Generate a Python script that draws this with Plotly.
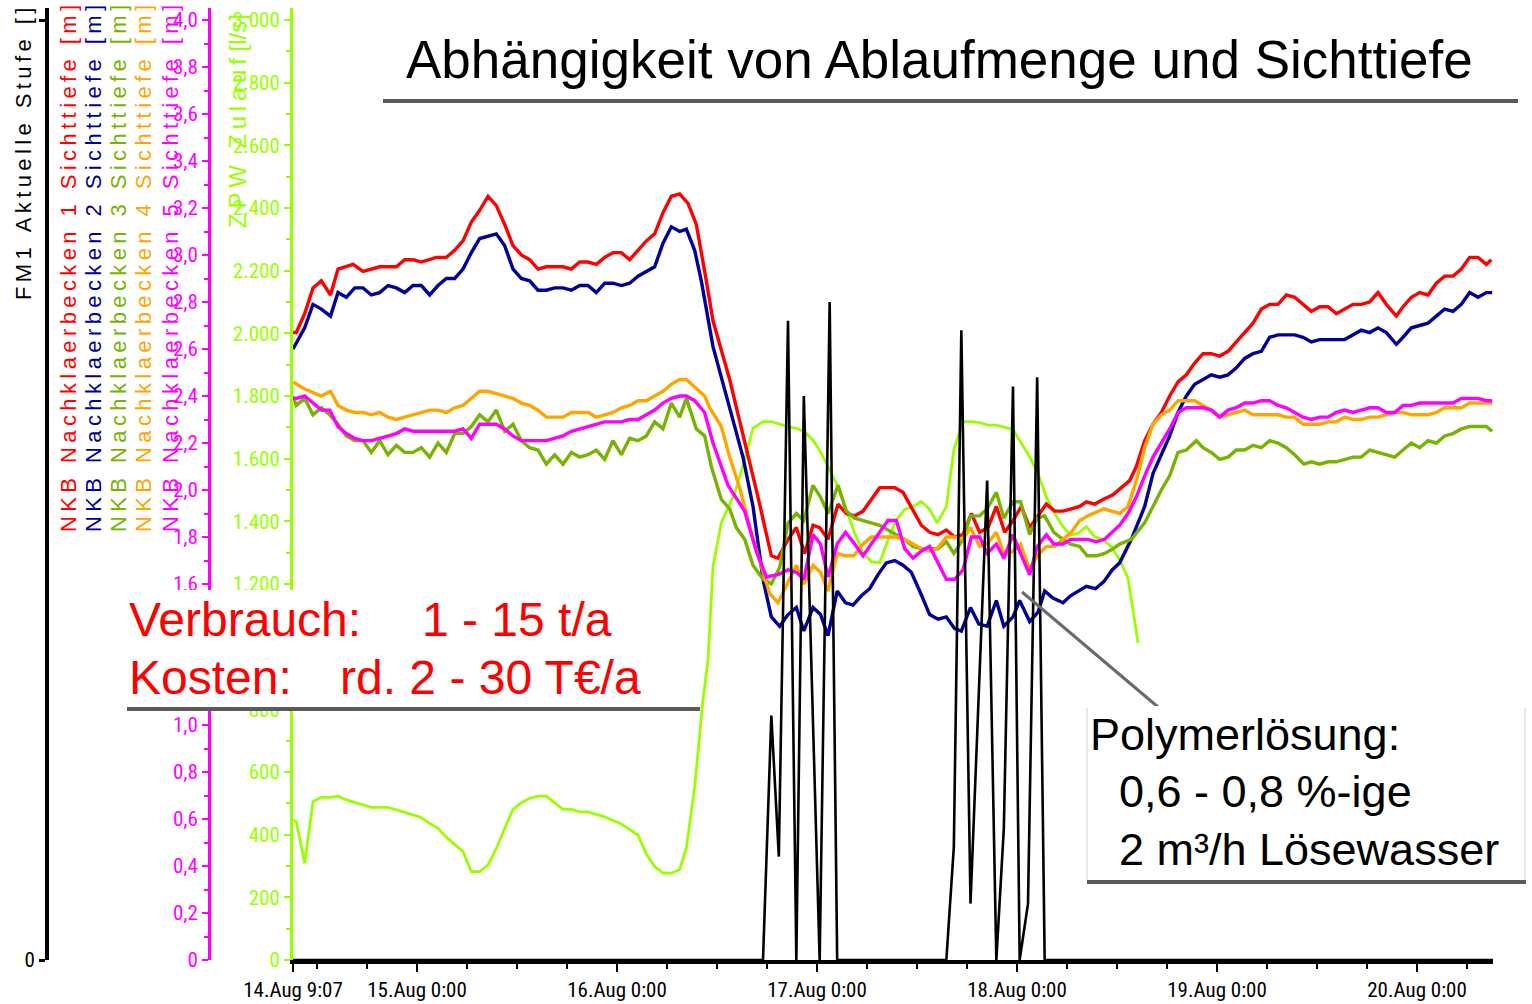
import pandas as pd
import plotly.graph_objects as go

# ---------------- data (hours after start, value) ----------------
START = "2006-08-14 09:07"
SPAN_HOURS = 144

# NKB Nachklaerbecken 1..5 Sichttiefe [m]
NKB1 = [(0.0, 2.67), (0.4, 2.67), (1.4, 2.75), (2.4, 2.86), (3.4, 2.89), (4.5, 2.83), (5.4, 2.94), (7.2, 2.96),
        (8.4, 2.93), (10.4, 2.95), (12.4, 2.95), (13.4, 2.98), (14.4, 2.98), (15.4, 2.97), (17.2, 2.99), (18.4, 2.99),
        (19.4, 3.02), (20.4, 3.06), (21.4, 3.14), (22.4, 3.19), (23.4, 3.25), (24.4, 3.21), (25.4, 3.13), (26.4, 3.04),
        (27.4, 3.00), (28.4, 2.98), (29.4, 2.94), (30.4, 2.95), (32.4, 2.95), (33.4, 2.94), (34.4, 2.97), (35.4, 2.97),
        (36.4, 2.96), (37.4, 2.99), (38.4, 3.01), (39.4, 3.01), (40.4, 2.98), (41.4, 3.02), (42.4, 3.06), (43.4, 3.09),
        (44.4, 3.18), (45.4, 3.25), (46.4, 3.26), (47.4, 3.22), (48.4, 3.13), (49.6, 2.89), (50.4, 2.72), (52.4, 2.47),
        (54.0, 2.24), (55.8, 1.97), (57.4, 1.72), (58.2, 1.71), (59.4, 1.79), (60.4, 1.84), (61.4, 1.73), (62.4, 1.85),
        (63.2, 1.84), (64.2, 1.79), (65.4, 1.94), (66.4, 1.90), (67.4, 1.89), (68.4, 1.91), (69.4, 1.96), (70.4, 2.01),
        (71.2, 2.01), (72.2, 2.01), (73.2, 1.99), (74.4, 1.91), (75.4, 1.85), (76.4, 1.82), (77.4, 1.81), (78.4, 1.83),
        (79.4, 1.80), (80.4, 1.81), (81.4, 1.90), (82.4, 1.82), (83.4, 1.84), (84.4, 1.93), (85.4, 1.82), (86.4, 1.87),
        (87.4, 1.93), (88.4, 1.84), (89.4, 1.89), (90.4, 1.94), (91.4, 1.91), (92.4, 1.91), (93.4, 1.92), (94.4, 1.93),
        (95.2, 1.95), (96.2, 1.94), (97.2, 1.96), (98.4, 1.98), (99.4, 2.01), (100.4, 2.04), (101.2, 2.10), (102.2, 2.21),
        (103.2, 2.28), (104.2, 2.33), (105.2, 2.40), (106.2, 2.46), (107.2, 2.49), (108.2, 2.54), (109.2, 2.58),
        (110.2, 2.58), (111.2, 2.57), (112.2, 2.59), (113.2, 2.63), (114.2, 2.67), (115.2, 2.71), (116.2, 2.77),
        (117.2, 2.79), (118.2, 2.79), (119.2, 2.83), (120.2, 2.82), (121.2, 2.79), (122.2, 2.76), (123.2, 2.78),
        (124.2, 2.78), (125.2, 2.75), (126.2, 2.77), (127.2, 2.79), (128.2, 2.79), (129.2, 2.80), (130.2, 2.84),
        (131.2, 2.79), (132.4, 2.74), (133.2, 2.78), (134.2, 2.82), (135.2, 2.84), (136.2, 2.83), (137.2, 2.88),
        (138.2, 2.91), (139.2, 2.91), (140.2, 2.94), (141.2, 2.99), (142.2, 2.99), (143.2, 2.96), (143.8, 2.98)]

NKB2 = [(0.0, 2.60), (1.4, 2.69), (2.4, 2.79), (3.4, 2.77), (4.5, 2.74), (5.4, 2.84), (6.4, 2.82), (7.4, 2.86),
        (8.4, 2.86), (9.4, 2.83), (10.4, 2.84), (11.4, 2.87), (12.4, 2.86), (13.4, 2.84), (14.4, 2.87), (15.4, 2.87),
        (16.4, 2.83), (17.4, 2.87), (18.4, 2.90), (19.4, 2.90), (20.4, 2.94), (21.4, 3.01), (22.4, 3.07), (23.4, 3.08),
        (24.4, 3.09), (25.4, 3.04), (26.4, 2.94), (27.4, 2.90), (28.4, 2.89), (29.4, 2.85), (30.4, 2.85), (31.4, 2.86),
        (32.4, 2.86), (33.4, 2.85), (34.4, 2.87), (35.4, 2.87), (36.4, 2.84), (37.4, 2.88), (38.4, 2.88), (39.4, 2.87),
        (40.4, 2.88), (41.4, 2.91), (42.4, 2.93), (43.4, 2.95), (44.4, 3.05), (45.4, 3.12), (46.4, 3.10), (47.2, 3.11),
        (48.2, 3.02), (49.0, 2.89), (50.4, 2.61), (51.6, 2.45), (52.8, 2.30), (54.0, 2.14), (55.2, 1.93), (56.4, 1.62),
        (57.4, 1.46), (58.4, 1.42), (59.4, 1.47), (60.4, 1.50), (61.3, 1.40), (62.4, 1.50), (63.3, 1.47), (64.2, 1.38),
        (65.3, 1.57), (66.3, 1.52), (67.2, 1.51), (68.2, 1.55), (69.2, 1.58), (70.2, 1.64), (71.2, 1.69), (72.2, 1.70),
        (73.2, 1.68), (74.2, 1.65), (75.2, 1.57), (76.4, 1.47), (77.4, 1.45), (78.4, 1.46), (79.4, 1.41), (80.2, 1.40),
        (81.3, 1.50), (82.3, 1.43), (83.3, 1.42), (84.4, 1.53), (85.3, 1.42), (86.4, 1.46), (87.2, 1.53), (88.4, 1.44),
        (89.4, 1.48), (90.2, 1.57), (91.2, 1.54), (92.4, 1.52), (93.3, 1.55), (94.2, 1.57), (95.2, 1.59), (96.3, 1.58),
        (97.3, 1.61), (98.3, 1.66), (99.2, 1.69), (100.6, 1.79), (102.2, 1.93), (103.2, 2.07), (104.2, 2.15),
        (105.2, 2.23), (106.2, 2.33), (107.2, 2.40), (108.2, 2.45), (109.2, 2.47), (110.2, 2.49), (111.2, 2.48),
        (112.2, 2.49), (113.2, 2.52), (114.2, 2.56), (115.2, 2.58), (116.2, 2.59), (117.2, 2.65), (118.2, 2.66),
        (120.2, 2.66), (121.2, 2.65), (122.2, 2.63), (123.2, 2.64), (126.2, 2.64), (127.2, 2.66), (128.2, 2.68),
        (129.2, 2.67), (130.2, 2.69), (131.2, 2.67), (132.4, 2.62), (133.2, 2.65), (134.2, 2.69), (135.2, 2.70),
        (136.2, 2.71), (137.2, 2.74), (138.2, 2.77), (139.2, 2.76), (140.2, 2.79), (141.2, 2.84), (142.2, 2.82),
        (143.2, 2.84), (143.9, 2.84)]

NKB3 = [(0.0, 2.40), (0.4, 2.36), (1.4, 2.39), (2.4, 2.32), (3.4, 2.35), (4.4, 2.32), (5.4, 2.28), (6.4, 2.23),
        (7.4, 2.21), (8.4, 2.21), (9.4, 2.16), (10.4, 2.21), (11.4, 2.15), (12.4, 2.19), (13.4, 2.16), (14.4, 2.16),
        (15.4, 2.18), (16.4, 2.14), (17.4, 2.20), (18.4, 2.16), (19.4, 2.24), (20.4, 2.24), (21.4, 2.27), (22.4, 2.32),
        (23.4, 2.29), (24.4, 2.34), (25.4, 2.25), (26.4, 2.28), (27.4, 2.21), (28.4, 2.18), (29.4, 2.17), (30.4, 2.11),
        (31.4, 2.15), (32.4, 2.11), (33.4, 2.16), (34.4, 2.14), (35.4, 2.15), (36.4, 2.17), (37.4, 2.13), (38.4, 2.21),
        (39.4, 2.15), (40.4, 2.22), (41.4, 2.21), (42.4, 2.23), (43.4, 2.29), (44.4, 2.26), (45.4, 2.37), (46.4, 2.31),
        (47.2, 2.39), (48.4, 2.26), (49.4, 2.23), (50.2, 2.10), (51.4, 1.96), (52.4, 1.92), (53.2, 1.84), (54.2, 1.79),
        (55.2, 1.68), (56.4, 1.62), (57.4, 1.60), (58.4, 1.67), (59.4, 1.86), (60.4, 1.90), (61.3, 1.87), (62.4, 2.02),
        (63.3, 1.97), (64.2, 1.90), (65.4, 2.02), (66.4, 1.91), (67.4, 1.88), (68.4, 1.87), (69.4, 1.86), (70.4, 1.85),
        (71.4, 1.83), (72.4, 1.81), (73.4, 1.79), (74.4, 1.76), (75.4, 1.75), (76.4, 1.75), (77.4, 1.75), (78.4, 1.78),
        (79.3, 1.73), (80.4, 1.79), (81.3, 1.89), (82.4, 1.89), (83.3, 1.92), (84.4, 1.99), (85.3, 1.88), (86.4, 1.95),
        (87.3, 1.95), (88.4, 1.81), (89.3, 1.88), (90.2, 1.89), (91.3, 1.82), (92.4, 1.79), (93.3, 1.77), (94.4, 1.76),
        (95.3, 1.72), (96.4, 1.72), (97.4, 1.73), (98.4, 1.75), (99.2, 1.77), (100.6, 1.79), (102.2, 1.86),
        (103.2, 1.93), (104.2, 2.00), (105.2, 2.06), (106.2, 2.16), (107.2, 2.17), (108.4, 2.21), (109.2, 2.18),
        (110.2, 2.16), (111.2, 2.13), (112.2, 2.14), (113.2, 2.17), (114.2, 2.17), (115.2, 2.19), (116.2, 2.18),
        (117.2, 2.21), (118.2, 2.20), (119.2, 2.18), (120.2, 2.15), (121.3, 2.11), (122.2, 2.12), (123.2, 2.11),
        (124.2, 2.12), (125.2, 2.12), (126.2, 2.13), (127.2, 2.14), (128.2, 2.14), (129.2, 2.17), (130.2, 2.16),
        (131.2, 2.15), (132.2, 2.14), (133.2, 2.17), (134.2, 2.20), (135.2, 2.18), (136.2, 2.21), (137.2, 2.20),
        (138.2, 2.23), (139.2, 2.24), (140.2, 2.26), (141.2, 2.27), (143.2, 2.27), (143.9, 2.25)]

NKB4 = [(0.0, 2.46), (1.4, 2.43), (3.4, 2.40), (4.5, 2.42), (5.4, 2.36), (6.4, 2.34), (7.4, 2.33), (8.4, 2.33),
        (9.4, 2.32), (10.4, 2.33), (11.4, 2.31), (12.4, 2.30), (13.4, 2.31), (14.4, 2.32), (16.4, 2.34), (17.4, 2.34),
        (18.4, 2.33), (19.4, 2.35), (20.4, 2.36), (21.4, 2.39), (22.4, 2.42), (23.4, 2.42), (24.4, 2.41), (25.4, 2.40),
        (26.4, 2.39), (27.4, 2.37), (28.4, 2.36), (29.4, 2.34), (30.4, 2.31), (32.4, 2.31), (33.4, 2.33), (35.4, 2.33),
        (36.4, 2.31), (37.4, 2.32), (38.4, 2.33), (39.4, 2.35), (40.4, 2.36), (41.4, 2.38), (42.4, 2.38), (43.4, 2.40),
        (44.4, 2.42), (45.4, 2.45), (46.4, 2.47), (47.2, 2.47), (48.4, 2.43), (49.4, 2.40), (50.0, 2.35), (51.4, 2.27),
        (52.4, 2.14), (53.6, 2.01), (55.2, 1.79), (57.2, 1.56), (58.2, 1.52), (59.2, 1.59), (60.4, 1.68), (61.3, 1.60),
        (62.4, 1.68), (63.3, 1.65), (64.2, 1.57), (65.3, 1.73), (66.3, 1.72), (67.3, 1.72), (68.4, 1.77), (69.4, 1.80),
        (72.4, 1.80), (73.4, 1.79), (74.4, 1.77), (75.4, 1.75), (76.4, 1.74), (77.3, 1.75), (78.4, 1.80), (79.4, 1.80),
        (80.4, 1.79), (81.3, 1.84), (82.4, 1.76), (83.3, 1.77), (84.4, 1.82), (85.4, 1.72), (86.4, 1.74), (87.3, 1.77),
        (88.4, 1.66), (89.3, 1.72), (90.4, 1.76), (91.4, 1.76), (92.4, 1.79), (93.4, 1.82), (94.4, 1.87), (95.4, 1.89),
        (97.3, 1.92), (99.2, 1.90), (100.2, 1.93), (101.2, 2.04), (102.2, 2.18), (103.2, 2.28), (104.2, 2.32),
        (105.2, 2.34), (106.2, 2.38), (108.2, 2.38), (109.2, 2.36), (110.2, 2.34), (111.2, 2.31), (112.2, 2.32),
        (113.2, 2.33), (114.2, 2.34), (115.2, 2.32), (118.2, 2.32), (119.2, 2.31), (120.2, 2.31), (121.2, 2.28),
        (123.2, 2.28), (124.2, 2.29), (125.2, 2.29), (126.2, 2.31), (127.2, 2.30), (128.2, 2.30), (129.2, 2.31),
        (130.2, 2.31), (131.2, 2.32), (132.2, 2.33), (133.2, 2.33), (134.2, 2.32), (136.2, 2.32), (137.2, 2.33),
        (138.2, 2.35), (140.2, 2.35), (141.2, 2.37), (143.9, 2.37)]

NKB5 = [(0.0, 2.39), (0.4, 2.39), (1.4, 2.40), (2.4, 2.37), (3.4, 2.34), (4.4, 2.34), (5.4, 2.27), (6.4, 2.24),
        (7.4, 2.22), (8.4, 2.21), (9.4, 2.21), (10.4, 2.22), (11.4, 2.23), (12.4, 2.24), (13.4, 2.26), (14.4, 2.25),
        (19.4, 2.25), (20.4, 2.26), (21.4, 2.22), (22.4, 2.28), (24.4, 2.28), (25.4, 2.26), (26.4, 2.23), (27.4, 2.21),
        (30.4, 2.21), (31.4, 2.22), (32.4, 2.23), (33.4, 2.25), (34.4, 2.26), (35.4, 2.27), (36.4, 2.28), (37.4, 2.29),
        (39.4, 2.29), (40.4, 2.30), (41.4, 2.30), (42.4, 2.32), (43.4, 2.34), (44.4, 2.37), (45.4, 2.39), (46.4, 2.40),
        (47.2, 2.40), (48.2, 2.38), (49.4, 2.33), (50.4, 2.20), (52.2, 2.02), (54.2, 1.91), (55.6, 1.74), (56.8, 1.63),
        (58.2, 1.64), (59.4, 1.66), (60.4, 1.65), (61.3, 1.62), (62.4, 1.81), (63.3, 1.77), (64.2, 1.63), (65.3, 1.77),
        (66.3, 1.82), (67.4, 1.77), (68.4, 1.72), (69.4, 1.77), (70.4, 1.82), (71.4, 1.87), (72.4, 1.87), (73.4, 1.75),
        (74.4, 1.71), (75.4, 1.74), (76.4, 1.76), (77.4, 1.69), (78.4, 1.62), (79.4, 1.62), (80.4, 1.66), (81.4, 1.80),
        (82.4, 1.80), (83.3, 1.73), (84.4, 1.77), (85.3, 1.71), (86.4, 1.81), (87.3, 1.73), (88.4, 1.64), (89.3, 1.76),
        (90.4, 1.81), (91.3, 1.77), (92.4, 1.77), (93.3, 1.79), (94.4, 1.79), (95.3, 1.79), (96.4, 1.78), (97.4, 1.79),
        (99.2, 1.85), (100.2, 1.90), (101.2, 1.97), (102.2, 2.06), (103.2, 2.14), (104.2, 2.20), (105.2, 2.26),
        (106.2, 2.33), (107.2, 2.35), (109.2, 2.35), (110.2, 2.34), (111.2, 2.31), (112.2, 2.34), (113.2, 2.35),
        (114.2, 2.37), (115.2, 2.37), (116.2, 2.38), (117.2, 2.38), (118.2, 2.36), (119.2, 2.35), (120.2, 2.33),
        (121.2, 2.31), (122.2, 2.30), (123.2, 2.31), (124.2, 2.31), (125.2, 2.33), (126.2, 2.34), (127.2, 2.33),
        (128.2, 2.34), (129.2, 2.35), (130.2, 2.35), (131.2, 2.33), (132.2, 2.33), (133.2, 2.36), (134.2, 2.36),
        (135.2, 2.37), (139.2, 2.37), (140.2, 2.39), (142.2, 2.39), (143.2, 2.38), (143.9, 2.38)]

# ZPW Zulauf [l/s]
ZULAUF = [(0.0, 447), (0.4, 441), (1.4, 309), (2.4, 505), (3.4, 519), (4.4, 519), (5.4, 523), (6.4, 511),
          (9.4, 487), (11.4, 487), (13.2, 473), (15.2, 457), (16.4, 436), (17.4, 420), (18.4, 392), (20.4, 346),
          (21.4, 282), (22.4, 282), (23.4, 303), (24.4, 356), (25.4, 420), (26.4, 481), (27.4, 502), (28.4, 516),
          (29.4, 523), (30.4, 523), (32.4, 481), (33.4, 481), (34.4, 473), (35.4, 473), (37.4, 457), (39.4, 434),
          (41.4, 399), (42.4, 338), (43.4, 298), (44.4, 277), (45.4, 277), (46.4, 289), (47.2, 356), (48.2, 553),
          (49.2, 830), (49.8, 957), (50.4, 1255), (51.4, 1396), (53.0, 1489), (54.2, 1596), (55.2, 1697),
          (56.4, 1718), (57.4, 1718), (58.4, 1710), (59.4, 1702), (60.4, 1697), (61.4, 1686), (62.4, 1659),
          (63.4, 1617), (64.4, 1564), (65.4, 1510), (66.4, 1436), (67.4, 1362), (68.4, 1300), (69.4, 1271),
          (70.4, 1268), (71.4, 1340), (72.4, 1404), (73.4, 1438), (74.4, 1447), (75.4, 1463), (76.4, 1438),
          (77.3, 1395), (78.4, 1447), (79.3, 1628), (80.4, 1718), (81.4, 1718), (82.4, 1715), (83.4, 1707),
          (84.4, 1707), (85.4, 1700), (86.4, 1693), (87.4, 1649), (88.4, 1606), (89.4, 1553), (90.4, 1478),
          (91.4, 1425), (92.4, 1383), (93.3, 1356), (94.2, 1362), (95.2, 1383), (96.2, 1351), (97.2, 1342),
          (98.2, 1319), (99.2, 1277), (100.2, 1219), (101.4, 1012)]

# FM1 Aktuelle Stufe []
STUFE = [(0.0, 0), (56.4, 0), (57.4, 0.26), (58.3, 0.11), (59.4, 0.68), (60.4, 0), (61.3, 0.60), (63.2, 0),
         (64.4, 0.70), (65.3, 0), (78.4, 0), (79.3, 0.12), (80.2, 0.67), (81.3, 0.06), (83.3, 0.51), (84.4, 0),
         (85.3, 0.14), (86.4, 0.61), (87.2, 0), (88.2, 0.06), (89.3, 0.62), (90.2, 0), (144.0, 0)]

NKB_NAMES = ["NKB Nachklaerbecken 1 Sichttiefe [m]", "NKB Nachklaerbecken 2 Sichttiefe [m]",
             "NKB Nachklaerbecken 3 Sichttiefe [m]", "NKB Nachklaerbecken 4 Sichttiefe [m]",
             "NKB Nachklaerbecken 5 Sichttiefe [m]"]
ZUL_NAME = "ZPW Zulauf"
ZUL_UNIT = "[l/s]"
STUFE_NAME = "FM1 Aktuelle Stufe []"

X_TICK_VALUES = ["2006-08-14 09:07", "2006-08-15 00:00", "2006-08-16 00:00", "2006-08-17 00:00",
                 "2006-08-18 00:00", "2006-08-19 00:00", "2006-08-20 00:00"]
X_TICK_TEXT = ["14.Aug 9:07", "15.Aug 0:00", "16.Aug 0:00", "17.Aug 0:00", "18.Aug 0:00", "19.Aug 0:00",
               "20.Aug 0:00"]
# labels hidden behind the "Verbrauch" box in the original are left blank
MAG_TICKS = [0, 0.2, 0.4, 0.6, 0.8, 1.0, 1.2, 1.4, 1.6, 1.8, 2.0, 2.2, 2.4, 2.6, 2.8, 3.0, 3.2, 3.4, 3.6, 3.8, 4.0]
MAG_TICK_TEXT = ["0", "0,2", "0,4", "0,6", "0,8", "1,0", "", "", "1,6", "1,8", "2,0", "2,2", "2,4", "2,6",
                 "2,8", "3,0", "3,2", "3,4", "3,6", "3,8", "4,0"]
MAG_MINOR = [0.1, 0.3, 0.5, 0.7, 0.9, 1.1, 1.3, 1.5, 1.7, 1.9, 2.1, 2.3, 2.5, 2.7, 2.9, 3.1, 3.3, 3.5, 3.7, 3.9]
ZUL_TICKS = [0, 200, 400, 600, 800, 1000, 1200, 1400, 1600, 1800, 2000, 2200, 2400, 2600, 2800, 3000]
ZUL_TICK_TEXT = ["0", "200", "400", "600", "800", "", "1.200", "1.400", "1.600", "1.800", "2.000", "2.200",
                 "2.400", "2.600", "2.800", "3.000"]
ZUL_MINOR = [100, 300, 500, 700, 900, 1100, 1300, 1500, 1700, 1900, 2100, 2300, 2500, 2700, 2900]

TITLE = "Abhängigkeit von Ablaufmenge und Sichttiefe"
NOTE1 = [("Verbrauch:", "1 - 15 t/a"), ("Kosten:", "rd. 2 - 30 T€/a")]
NOTE2 = ["Polymerlösung:", "0,6 - 0,8 %-ige", "2 m³/h Lösewasser"]

# ---------------- styling ----------------
RED, BLUE, OLIVE, ORANGE, MAGENTA = "#FF0000", "#000099", "#77B300", "#FFA500", "#FF00FF"
NKB_COLORS = [RED, BLUE, OLIVE, ORANGE, MAGENTA]
LIME = "#99FF00"
HATCH = "#5a5a5a"
NARROW = "Liberation Sans Narrow, Arial Narrow, Roboto Condensed, Liberation Sans, Arial, sans-serif"
SANS = "Liberation Sans, Arial, sans-serif"

W, H = 1532, 1004


def px(x):
    return x / W


def py(y):
    return 1 - y / H


t0 = pd.Timestamp(START)


def times(series):
    return [t0 + pd.Timedelta(hours=h) for h, _ in series]


def vals(series):
    return [v for _, v in series]


def spaced(s):
    return "\u2009".join(s)


fig = go.Figure()

# Zulauf (bottom layer, primary axis)
fig.add_trace(go.Scatter(x=times(ZULAUF), y=vals(ZULAUF), mode="lines", yaxis="y",
                         line=dict(color=LIME, width=2.8), showlegend=False))
# Sichttiefe lines
for series, col in zip([NKB1, NKB2, NKB3, NKB4, NKB5], NKB_COLORS):
    fig.add_trace(go.Scatter(x=times(series), y=vals(series), mode="lines", yaxis="y2",
                             line=dict(color=col, width=3.4), showlegend=False))
# Stufe
fig.add_trace(go.Scatter(x=times(STUFE), y=vals(STUFE), mode="lines", yaxis="y3",
                         line=dict(color="black", width=2.6), showlegend=False))

y_dom = [py(960), py(8)]
scale_top = (960 - 8) / 940.0

fig.update_layout(
    width=W, height=H, autosize=False,
    margin=dict(l=0, r=0, t=0, b=0, autoexpand=False),
    paper_bgcolor="white", plot_bgcolor="white",
    showlegend=False,
    xaxis=dict(
        domain=[px(293), px(1493)], type="date", anchor="y", automargin=False,
        range=[t0, t0 + pd.Timedelta(hours=SPAN_HOURS)],
        showline=True, linecolor="black", linewidth=4,
        ticks="outside", ticklen=8, tickwidth=2, tickcolor="black",
        tickmode="array", tickvals=X_TICK_VALUES, ticktext=X_TICK_TEXT,
        tickfont=dict(family=NARROW, size=21, color="black"),
        showgrid=False, zeroline=False,
        minor=dict(ticks="outside", ticklen=5, tickwidth=2, tickcolor="black",
                   dtick=6 * 3600 * 1000, tick0="2006-08-14 00:00", showgrid=False),
    ),
    yaxis=dict(
        domain=y_dom, anchor="x", side="left", range=[0, 3000 * scale_top], automargin=False,
        showline=True, linecolor=LIME, linewidth=3,
        ticks="outside", ticklen=6, tickwidth=2, tickcolor=LIME,
        tickmode="array", tickvals=ZUL_TICKS, ticktext=ZUL_TICK_TEXT,
        tickfont=dict(family=NARROW, size=21, color=LIME),
        showgrid=False, zeroline=False,
        minor=dict(ticks="outside", ticklen=4, tickwidth=2, tickcolor=LIME, tickvals=ZUL_MINOR, showgrid=False),
    ),
    yaxis2=dict(
        domain=y_dom, anchor="free", overlaying="y", side="left", position=px(209), automargin=False,
        range=[0, 4 * scale_top],
        showline=True, linecolor=MAGENTA, linewidth=3,
        ticks="outside", ticklen=6, tickwidth=2, tickcolor=MAGENTA,
        tickmode="array", tickvals=MAG_TICKS, ticktext=MAG_TICK_TEXT,
        tickfont=dict(family=NARROW, size=21, color=MAGENTA),
        showgrid=False, zeroline=False,
        minor=dict(ticks="outside", ticklen=4, tickwidth=2, tickcolor=MAGENTA, tickvals=MAG_MINOR, showgrid=False),
    ),
    yaxis3=dict(
        domain=y_dom, anchor="free", overlaying="y", side="left", position=px(47), automargin=False,
        range=[0, 1 * scale_top],
        showline=True, linecolor="black", linewidth=4,
        ticks="outside", ticklen=6, tickwidth=3, tickcolor="black",
        tickmode="array", tickvals=[0, 1], ticktext=["0", ""],
        tickfont=dict(family=NARROW, size=21, color="black"),
        showgrid=False, zeroline=False,
    ),
)

shapes = [
    # title underline
    dict(type="line", xref="paper", yref="paper", x0=px(383), x1=px(1518), y0=py(101), y1=py(101),
         line=dict(color=HATCH, width=4), layer="above"),
    # Verbrauch box
    dict(type="rect", xref="paper", yref="paper", x0=px(120), x1=px(700), y0=py(707), y1=py(590),
         fillcolor="white", line=dict(width=0), layer="above"),
    dict(type="line", xref="paper", yref="paper", x0=px(127), x1=px(700), y0=py(709), y1=py(709),
         line=dict(color=HATCH, width=4), layer="above"),
    # pointer
    dict(type="line", xref="paper", yref="paper", x0=px(1022), x1=px(1158), y0=py(592), y1=py(707),
         line=dict(color="#6a6a6a", width=3), layer="above"),
    # Polymer box
    dict(type="rect", xref="paper", yref="paper", x0=px(1087), x1=px(1525), y0=py(881), y1=py(706),
         fillcolor="white", line=dict(width=0), layer="above"),
    dict(type="line", xref="paper", yref="paper", x0=px(1087), x1=px(1087), y0=py(881), y1=py(708),
         line=dict(color="#d0d0d0", width=1), layer="above"),
    dict(type="line", xref="paper", yref="paper", x0=px(1525), x1=px(1525), y0=py(881), y1=py(708),
         line=dict(color="#d0d0d0", width=1), layer="above"),
    dict(type="line", xref="paper", yref="paper", x0=px(1087), x1=px(1526), y0=py(882), y1=py(882),
         line=dict(color=HATCH, width=4), layer="above"),
]
fig.update_layout(shapes=shapes)

ann = []
# title
ann.append(dict(text=TITLE, x=px(940), y=py(60), xref="paper", yref="paper", showarrow=False,
                xanchor="center", yanchor="middle", font=dict(family=SANS, size=53, color="black")))
# Verbrauch / Kosten
ann.append(dict(text=NOTE1[0][0], x=px(127), y=py(619), xref="paper", yref="paper", showarrow=False,
                xanchor="left", yanchor="middle", font=dict(family=SANS, size=48, color=RED)))
ann.append(dict(text=NOTE1[0][1], x=px(420), y=py(619), xref="paper", yref="paper", showarrow=False,
                xanchor="left", yanchor="middle", font=dict(family=SANS, size=48, color=RED)))
ann.append(dict(text=NOTE1[1][0], x=px(127), y=py(677), xref="paper", yref="paper", showarrow=False,
                xanchor="left", yanchor="middle", font=dict(family=SANS, size=48, color=RED)))
ann.append(dict(text=NOTE1[1][1], x=px(338), y=py(677), xref="paper", yref="paper", showarrow=False,
                xanchor="left", yanchor="middle", font=dict(family=SANS, size=48, color=RED)))
# Polymer note
for txt, xx, yy in zip(NOTE2, [1088, 1117, 1117], [734, 791, 849]):
    ann.append(dict(text=txt, x=px(xx), y=py(yy), xref="paper", yref="paper", showarrow=False,
                    xanchor="left", yanchor="middle", font=dict(family=SANS, size=45, color="black")))
# vertical axis titles
ann.append(dict(text=spaced(STUFE_NAME), x=px(24), y=py(154), xref="paper", yref="paper", showarrow=False,
                textangle=-90, xanchor="center", yanchor="middle", font=dict(family=SANS, size=22, color="black")))
for name, col, xx in zip(NKB_NAMES, NKB_COLORS, [68, 93, 118, 143, 170]):
    ann.append(dict(text=spaced(name), x=px(xx), y=py(269), xref="paper", yref="paper", showarrow=False,
                    textangle=-90, xanchor="center", yanchor="middle", font=dict(family=SANS, size=22, color=col)))
ann.append(dict(text=spaced(ZUL_NAME) + " " + ZUL_UNIT, x=px(237), y=py(121), xref="paper", yref="paper",
                showarrow=False, textangle=-90, xanchor="center", yanchor="middle",
                font=dict(family=SANS, size=24, color=LIME)))
fig.update_layout(annotations=ann)

fig.write_html("out.html", config={"displayModeBar": False},
               post_script="document.body.style.margin='0';document.body.style.overflow='hidden';")
